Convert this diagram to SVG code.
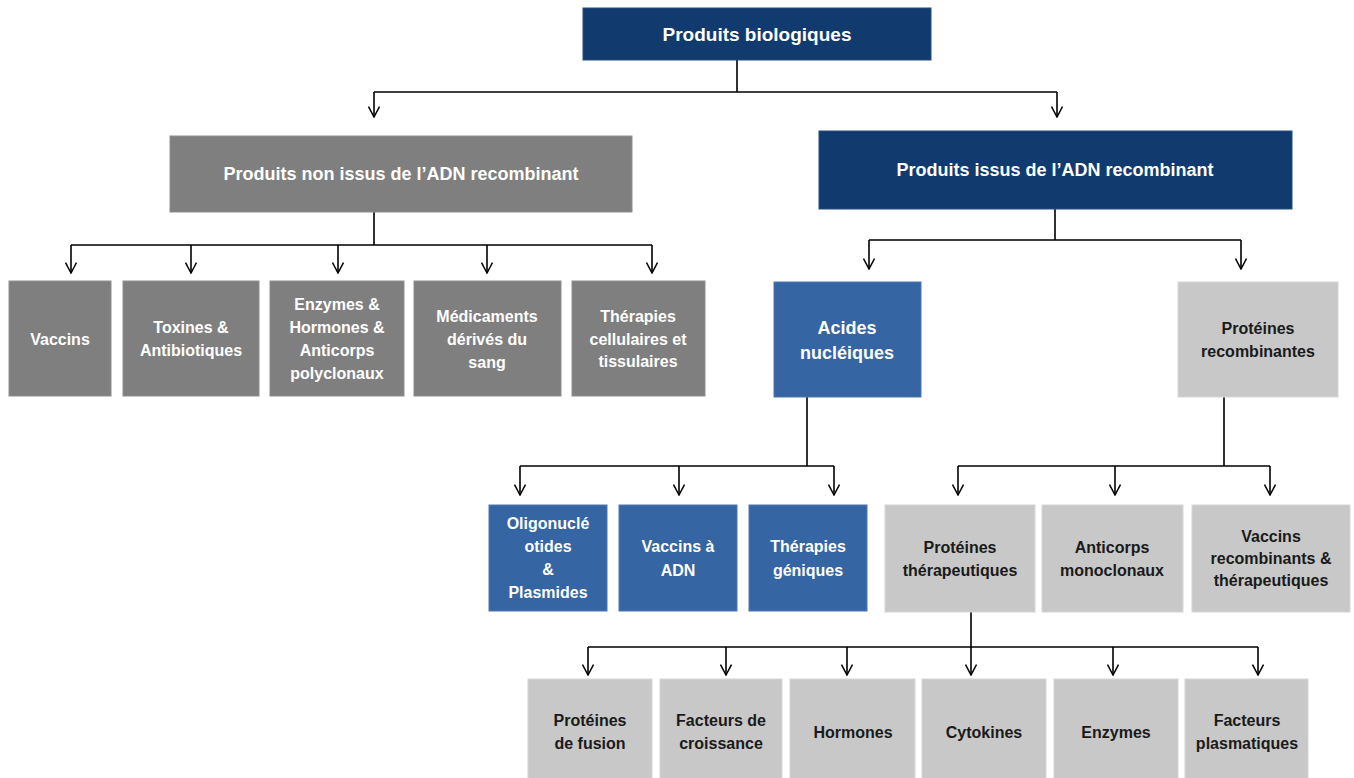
<svg xmlns="http://www.w3.org/2000/svg" width="1354" height="778" viewBox="0 0 1354 778">
<defs>
<marker id="arr" viewBox="0 0 12 12" refX="6" refY="11" markerWidth="12" markerHeight="12" markerUnits="userSpaceOnUse" orient="0">
<path d="M0.5,0.5 L6,11 L11.5,0.5" fill="none" stroke="#000" stroke-width="1.5"/>
</marker>
</defs>
<style>
.navy{fill:#113a6e;stroke:#2a4f80;stroke-width:1}
.blue{fill:#3565a3;stroke:#4f79b0;stroke-width:1}
.dgray{fill:#7f7f7f;stroke:#8f8f8f;stroke-width:1}
.lgray{fill:#c8c8c8;stroke:#d6d6d6;stroke-width:1}
text{font-family:"Liberation Sans",Arial,sans-serif;font-weight:bold;text-anchor:middle}
.w{fill:#ffffff;font-size:16px}
.k{fill:#1a1a1a;font-size:16px}
.big{font-size:18px}
.top{font-size:19px}
.conn{fill:none;stroke:#000;stroke-width:1.6}
</style>
<rect width="1354" height="778" fill="#ffffff"/>

<g id="connectors">
<path class="conn" d="M737,60 V92 M374,92 H1057"/>
<path class="conn" d="M374,92 V117" marker-end="url(#arr)"/>
<path class="conn" d="M1057,92 V117" marker-end="url(#arr)"/>

<path class="conn" d="M374,212 V245 M71,245 H652"/>
<path class="conn" d="M71,245 V273" marker-end="url(#arr)"/>
<path class="conn" d="M191,245 V273" marker-end="url(#arr)"/>
<path class="conn" d="M338,245 V273" marker-end="url(#arr)"/>
<path class="conn" d="M487,245 V273" marker-end="url(#arr)"/>
<path class="conn" d="M652,245 V273" marker-end="url(#arr)"/>

<path class="conn" d="M1055,209 V240 M869,240 H1241"/>
<path class="conn" d="M869,240 V269" marker-end="url(#arr)"/>
<path class="conn" d="M1241,240 V269" marker-end="url(#arr)"/>

<path class="conn" d="M807,397 V466 M520,466 H834"/>
<path class="conn" d="M520,466 V495" marker-end="url(#arr)"/>
<path class="conn" d="M679,466 V495" marker-end="url(#arr)"/>
<path class="conn" d="M834,466 V495" marker-end="url(#arr)"/>

<path class="conn" d="M1224,397 V466 M958,466 H1270"/>
<path class="conn" d="M958,466 V495" marker-end="url(#arr)"/>
<path class="conn" d="M1115,466 V495" marker-end="url(#arr)"/>
<path class="conn" d="M1270,466 V495" marker-end="url(#arr)"/>

<path class="conn" d="M971,612 V647 M588,647 H1258"/>
<path class="conn" d="M588,647 V675" marker-end="url(#arr)"/>
<path class="conn" d="M726,647 V675" marker-end="url(#arr)"/>
<path class="conn" d="M847,647 V675" marker-end="url(#arr)"/>
<path class="conn" d="M971,647 V675" marker-end="url(#arr)"/>
<path class="conn" d="M1113,647 V675" marker-end="url(#arr)"/>
<path class="conn" d="M1258,647 V675" marker-end="url(#arr)"/>
</g>

<g id="n-root"><rect class="navy" x="583" y="8" width="348" height="52"/><text class="w top" x="757" y="41">Produits biologiques</text></g>
<g id="n-nonrec"><rect class="dgray" x="170" y="136" width="462" height="76"/><text class="w big" x="401" y="180">Produits non issus de l’ADN recombinant</text></g>
<g id="n-rec"><rect class="navy" x="819" y="131" width="473" height="78"/><text class="w big" x="1055" y="176">Produits issus de l’ADN recombinant</text></g>

<g id="n-vaccins"><rect class="dgray" x="9" y="281" width="102" height="115"/><text class="w" x="60" y="345">Vaccins</text></g>
<g id="n-toxines"><rect class="dgray" x="123" y="281" width="136" height="115"/><text class="w" x="191" y="333">Toxines &amp;</text><text class="w" x="191" y="356">Antibiotiques</text></g>
<g id="n-enzymes"><rect class="dgray" x="270" y="281" width="134" height="115"/><text class="w" x="337" y="310">Enzymes &amp;</text><text class="w" x="337" y="333">Hormones &amp;</text><text class="w" x="337" y="356">Anticorps</text><text class="w" x="337" y="379">polyclonaux</text></g>
<g id="n-medic"><rect class="dgray" x="414" y="281" width="147" height="115"/><text class="w" x="487" y="322">Médicaments</text><text class="w" x="487" y="345">dérivés du</text><text class="w" x="487" y="368">sang</text></g>
<g id="n-therap"><rect class="dgray" x="572" y="281" width="133" height="115"/><text class="w" x="638" y="322">Thérapies</text><text class="w" x="638" y="345">cellulaires et</text><text class="w" x="638" y="367">tissulaires</text></g>

<g id="n-acides"><rect class="blue" x="774" y="282" width="147" height="115"/><text class="w big" x="847" y="334">Acides</text><text class="w big" x="847" y="359">nucléiques</text></g>
<g id="n-protrec"><rect class="lgray" x="1178" y="282" width="160" height="115"/><text class="k" x="1258" y="334">Protéines</text><text class="k" x="1258" y="357">recombinantes</text></g>

<g id="n-oligo"><rect class="blue" x="489" y="505" width="118" height="106"/><text class="w" x="548" y="529">Oligonuclé</text><text class="w" x="548" y="552">otides</text><text class="w" x="548" y="575">&amp;</text><text class="w" x="548" y="598">Plasmides</text></g>
<g id="n-vacadn"><rect class="blue" x="619" y="505" width="118" height="106"/><text class="w" x="678" y="552">Vaccins à</text><text class="w" x="678" y="576">ADN</text></g>
<g id="n-thergen"><rect class="blue" x="749" y="505" width="118" height="106"/><text class="w" x="808" y="552">Thérapies</text><text class="w" x="808" y="576">géniques</text></g>

<g id="n-protther"><rect class="lgray" x="885" y="505" width="150" height="107"/><text class="k" x="960" y="553">Protéines</text><text class="k" x="960" y="576">thérapeutiques</text></g>
<g id="n-anticorps"><rect class="lgray" x="1042" y="505" width="141" height="107"/><text class="k" x="1112" y="553">Anticorps</text><text class="k" x="1112" y="576">monoclonaux</text></g>
<g id="n-vacrec"><rect class="lgray" x="1192" y="505" width="158" height="107"/><text class="k" x="1271" y="542">Vaccins</text><text class="k" x="1271" y="564">recombinants &amp;</text><text class="k" x="1271" y="586">thérapeutiques</text></g>

<g id="n-fusion"><rect class="lgray" x="528" y="679" width="124" height="105"/><text class="k" x="590" y="726">Protéines</text><text class="k" x="590" y="749">de fusion</text></g>
<g id="n-croiss"><rect class="lgray" x="660" y="679" width="122" height="105"/><text class="k" x="721" y="726">Facteurs de</text><text class="k" x="721" y="749">croissance</text></g>
<g id="n-hormones"><rect class="lgray" x="790" y="679" width="125" height="105"/><text class="k" x="853" y="738">Hormones</text></g>
<g id="n-cytokines"><rect class="lgray" x="922" y="679" width="124" height="105"/><text class="k" x="984" y="738">Cytokines</text></g>
<g id="n-enz2"><rect class="lgray" x="1054" y="679" width="124" height="105"/><text class="k" x="1116" y="738">Enzymes</text></g>
<g id="n-plasma"><rect class="lgray" x="1185" y="679" width="123" height="105"/><text class="k" x="1247" y="726">Facteurs</text><text class="k" x="1247" y="749">plasmatiques</text></g>
</svg>
